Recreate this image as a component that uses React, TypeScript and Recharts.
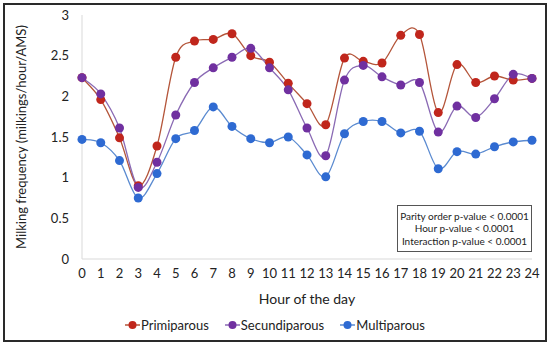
import React from 'react'
import { Legend, Line, LineChart, XAxis, YAxis } from 'recharts'

const hours = [0, 1, 2, 3, 4, 5, 6, 7, 8, 9, 10, 11, 12, 13, 14, 15, 16, 17, 18, 19, 20, 21, 22, 23, 24]
const primiparous = [2.23, 1.96, 1.49, 0.9, 1.39, 2.48, 2.68, 2.7, 2.77, 2.5, 2.42, 2.16, 1.91, 1.65, 2.47, 2.43, 2.41, 2.75, 2.76, 1.8, 2.39, 2.17, 2.25, 2.2, 2.22]
const secundiparous = [2.23, 2.03, 1.61, 0.88, 1.19, 1.77, 2.17, 2.35, 2.48, 2.59, 2.35, 2.08, 1.61, 1.27, 2.2, 2.38, 2.24, 2.14, 2.17, 1.56, 1.88, 1.74, 1.97, 2.27, 2.22]
const multiparous = [1.47, 1.43, 1.21, 0.75, 1.05, 1.48, 1.58, 1.87, 1.63, 1.48, 1.43, 1.5, 1.28, 1.01, 1.54, 1.69, 1.69, 1.55, 1.57, 1.11, 1.32, 1.29, 1.38, 1.44, 1.46]
const yTicks = [0, 0.5, 1, 1.5, 2, 2.5, 3]
const statLines = ['Parity order p-value < 0.0001', 'Hour p-value < 0.0001', 'Interaction p-value < 0.0001']

const data = hours.map((hour, i) => ({
  hour,
  primiparous: primiparous[i],
  secundiparous: secundiparous[i],
  multiparous: multiparous[i],
}))

const series = [
  { key: 'primiparous', name: 'Primiparous', line: '#b4553a', dot: '#c0261c' },
  { key: 'secundiparous', name: 'Secundiparous', line: '#8a6ab4', dot: '#7030a0' },
  { key: 'multiparous', name: 'Multiparous', line: '#5a8ad0', dot: '#2e6ad2' },
]

const font = 'Lato, "Open Sans", sans-serif'

// excel-like smoothed line (catmull-rom through the points)
const smooth = (context: any) => {
  let pts: [number, number][] = []
  return {
    areaStart() {},
    areaEnd() {},
    lineStart() {
      pts = []
    },
    lineEnd() {
      const n = pts.length
      if (!n) return
      context.moveTo(pts[0][0], pts[0][1])
      for (let i = 0; i < n - 1; i++) {
        const p0 = pts[Math.max(i - 1, 0)]
        const p1 = pts[i]
        const p2 = pts[i + 1]
        const p3 = pts[Math.min(i + 2, n - 1)]
        context.bezierCurveTo(
          p1[0] + (p2[0] - p0[0]) / 6,
          p1[1] + (p2[1] - p0[1]) / 6,
          p2[0] - (p3[0] - p1[0]) / 6,
          p2[1] - (p3[1] - p1[1]) / 6,
          p2[0],
          p2[1],
        )
      }
    },
    point(x: number, y: number) {
      pts.push([+x, +y])
    },
  }
}

const renderLegend = () => (
  <div
    style={{
      display: 'flex',
      justifyContent: 'center',
      alignItems: 'center',
      gap: 16,
      height: 20,
      fontSize: 13,
      fontFamily: font,
      color: '#222',
    }}
  >
    {series.map((s) => (
      <div key={s.key} style={{ display: 'flex', alignItems: 'center' }}>
        <svg width={15} height={10} style={{ marginRight: 1 }}>
          <line x1={0} y1={5} x2={15} y2={5} stroke={s.line} strokeWidth={1.5} />
          <circle cx={7.5} cy={5} r={4} fill={s.dot} />
        </svg>
        <span>{s.name}</span>
      </div>
    ))}
  </div>
)

export default function App() {
  return (
    <div style={{ position: 'absolute', left: 0, top: 0, width: 550, height: 345, background: '#fff' }}>
      <div
        style={{
          position: 'absolute',
          left: 3,
          top: 3,
          width: 540,
          height: 335,
          border: '2px solid #2a2a2a',
        }}
      />
      <LineChart width={550} height={345} data={data} margin={{ top: 15, right: 18, left: 10, bottom: 10 }}>
        <XAxis
          dataKey="hour"
          type="number"
          domain={[0, 24]}
          ticks={hours}
          interval={0}
          height={56}
          axisLine={{ stroke: '#d9d9d9' }}
          tickLine={false}
          tickMargin={4}
          tick={{ fontSize: 13, fill: '#222', fontFamily: font }}
          label={{ value: 'Hour of the day', position: 'insideBottom', offset: 11, fontSize: 14, fill: '#222', fontFamily: font }}
        />
        <YAxis
          domain={[0, 3]}
          ticks={yTicks}
          width={72}
          axisLine={{ stroke: '#d9d9d9' }}
          tickLine={false}
          tickMargin={7}
          tick={{ fontSize: 13, fill: '#222', fontFamily: font }}
          label={{
            value: 'Milking frequency (milkings/hour/AMS)',
            angle: -90,
            position: 'insideLeft',
            offset: 11,
            fontSize: 13,
            fill: '#222',
            fontFamily: font,
            style: { textAnchor: 'middle' },
          }}
        />
        <Legend verticalAlign="bottom" content={renderLegend} wrapperStyle={{ left: 0, width: 550 }} />
        {series.map((s) => (
          <Line
            key={s.key}
            dataKey={s.key}
            name={s.name}
            type={smooth as any}
            stroke={s.line}
            strokeWidth={1.3}
            dot={{ r: 4.5, fill: s.dot, stroke: s.dot, strokeWidth: 0 }}
            activeDot={false}
            isAnimationActive={false}
          />
        ))}
      </LineChart>
      <div
        style={{
          position: 'absolute',
          left: 397,
          top: 205,
          width: 135,
          height: 47,
          boxSizing: 'border-box',
          border: '1.5px solid #555',
          background: '#fff',
          display: 'flex',
          flexDirection: 'column',
          justifyContent: 'center',
          alignItems: 'center',
          fontSize: 10,
          lineHeight: '12.6px',
          whiteSpace: 'nowrap',
          fontFamily: font,
          color: '#222',
        }}
      >
        {statLines.map((t) => (
          <div key={t}>{t}</div>
        ))}
      </div>
    </div>
  )
}
